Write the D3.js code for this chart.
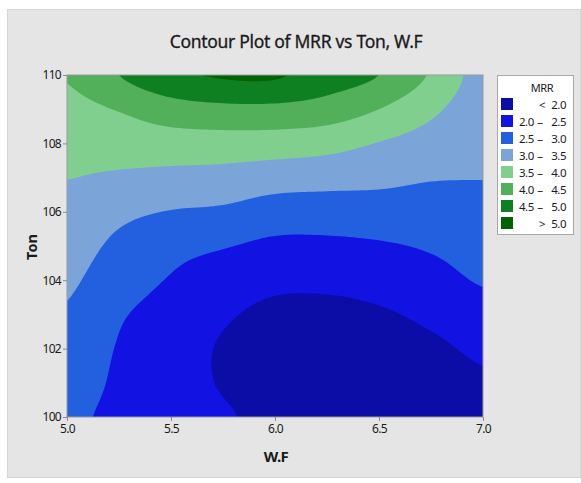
<!DOCTYPE html>
<html>
<head>
<meta charset="utf-8">
<script src="https://cdn.jsdelivr.net/npm/d3@7"></script>
<style>
  body { margin: 0; background: #fff; }
  text { font-family: "Noto Sans", "Open Sans", sans-serif; fill: #1a1a1a; }
</style>
</head>
<body>
<script>
// grid: columns follow wf, one row per ton value
var wf = [5.0, 5.25, 5.5, 5.75, 6.0, 6.25, 6.5, 6.75, 7.0];
var ton = [100, 101, 102, 103, 104, 105, 106, 107, 108, 109, 110];
var mrr = [
  [2.58, 2.40, 2.25, 2.06, 1.85, 1.75, 1.68, 1.70, 1.82],
  [2.70, 2.43, 2.22, 1.96, 1.76, 1.68, 1.62, 1.72, 1.92],
  [2.82, 2.47, 2.25, 1.95, 1.76, 1.70, 1.68, 1.88, 2.10],
  [2.95, 2.55, 2.34, 2.07, 1.88, 1.85, 1.93, 2.12, 2.32],
  [3.08, 2.71, 2.47, 2.27, 2.12, 2.12, 2.20, 2.33, 2.54],
  [3.22, 2.89, 2.65, 2.53, 2.40, 2.40, 2.45, 2.55, 2.70],
  [3.37, 3.12, 2.98, 2.92, 2.77, 2.75, 2.78, 2.78, 2.86],
  [3.51, 3.43, 3.37, 3.33, 3.23, 3.18, 3.12, 3.03, 3.01],
  [3.68, 3.73, 3.77, 3.78, 3.76, 3.68, 3.48, 3.30, 3.14],
  [3.85, 4.03, 4.28, 4.38, 4.38, 4.28, 4.00, 3.60, 3.22],
  [4.03, 4.50, 4.88, 5.05, 5.06, 4.75, 4.50, 3.95, 3.30]
];

var levels = [2.0, 2.5, 3.0, 3.5, 4.0, 4.5, 5.0];
var colors = ["#0c0ca6", "#1212e2", "#2260e0", "#7ba4d9", "#80cf8f", "#52b05a", "#0f8021", "#006300"];
var legendLabels = [["<", "2.0"], ["2.0", "2.5"], ["2.5", "3.0"], ["3.0", "3.5"],
                    ["3.5", "4.0"], ["4.0", "4.5"], ["4.5", "5.0"], [">", "5.0"]];
var xTicks = [5.0, 5.5, 6.0, 6.5, 7.0];
var yTicks = [100, 102, 104, 106, 108, 110];

var W = 581, H = 483;
var plot = {left: 67, right: 483, top: 75, bottom: 417};

var svg = d3.select("body").append("svg")
  .attr("width", W)
  .attr("height", H);

svg.append("rect").attr("width", W).attr("height", H).attr("fill", "#fff");
svg.append("rect")
  .attr("x", 7.5).attr("y", 9.5)
  .attr("width", W - 8).attr("height", 468)
  .attr("fill", "#e5e5e5")
  .attr("stroke", "#d4d4d4");

var x = d3.scaleLinear().domain([5, 7]).range([plot.left, plot.right]);
var y = d3.scaleLinear().domain([100, 110]).range([plot.bottom, plot.top]);

// smooth the read grid for drawing (catmull-rom), k steps per cell
var k = 12;
var nx = (wf.length - 1) * k + 1, ny = (ton.length - 1) * k + 1;
function cr(p0, p1, p2, p3, t) {
  return 0.5 * (2 * p1 + (-p0 + p2) * t + (2 * p0 - 5 * p1 + 4 * p2 - p3) * t * t +
    (-p0 + 3 * p1 - 3 * p2 + p3) * t * t * t);
}
function at(j, i) {
  j = Math.max(0, Math.min(ton.length - 1, j));
  i = Math.max(0, Math.min(wf.length - 1, i));
  return mrr[j][i];
}
var grid = new Array(nx * ny);
for (var jj = 0; jj < ny; jj++) {
  var j0 = Math.min(Math.floor(jj / k), ton.length - 2), tj = jj / k - j0;
  for (var ii = 0; ii < nx; ii++) {
    var i0 = Math.min(Math.floor(ii / k), wf.length - 2), ti = ii / k - i0;
    var rows = [];
    for (var m = -1; m <= 2; m++) {
      rows.push(cr(at(j0 + m, i0 - 1), at(j0 + m, i0), at(j0 + m, i0 + 1), at(j0 + m, i0 + 2), ti));
    }
    grid[jj * nx + ii] = cr(rows[0], rows[1], rows[2], rows[3], tj);
  }
}

var contours = d3.contours().size([nx, ny]).thresholds(levels)(grid);

var proj = d3.geoTransform({
  point: function(px, py) {
    var a = 5 + (px - 0.5) * 2 / (nx - 1);
    var b = 100 + (py - 0.5) * 10 / (ny - 1);
    this.stream.point(x(a), y(b));
  }
});
var path = d3.geoPath(proj);

svg.append("clipPath").attr("id", "clip")
  .append("rect")
  .attr("x", plot.left).attr("y", plot.top)
  .attr("width", plot.right - plot.left).attr("height", plot.bottom - plot.top);

var g = svg.append("g").attr("clip-path", "url(#clip)");
g.append("rect")
  .attr("x", plot.left).attr("y", plot.top)
  .attr("width", plot.right - plot.left).attr("height", plot.bottom - plot.top)
  .attr("fill", colors[0]);
g.selectAll("path").data(contours).enter().append("path")
  .attr("d", path)
  .attr("fill", function(d, i) { return colors[i + 1]; });

svg.append("rect")
  .attr("x", plot.left).attr("y", plot.top)
  .attr("width", plot.right - plot.left).attr("height", plot.bottom - plot.top)
  .attr("fill", "none").attr("stroke", "#9a9a9a").attr("stroke-width", 1);

// axes
var xAxis = svg.append("g")
  .attr("transform", "translate(0," + plot.bottom + ")")
  .call(d3.axisBottom(x).tickValues(xTicks).tickFormat(d3.format(".1f")).tickSize(4).tickPadding(3));
var yAxis = svg.append("g")
  .attr("transform", "translate(" + plot.left + ",0)")
  .call(d3.axisLeft(y).tickValues(yTicks).tickFormat(d3.format("d")).tickSize(4).tickPadding(2));
[xAxis, yAxis].forEach(function(ax) {
  ax.select(".domain").remove();
  ax.selectAll(".tick line").attr("stroke", "#8a8a8a");
  ax.selectAll(".tick text")
    .style("font-family", "'Noto Sans', sans-serif")
    .style("font-size", "12px")
    .style("letter-spacing", "-0.7px")
    .attr("fill", "#1a1a1a");
});

svg.append("text")
  .attr("x", 296).attr("y", 48)
  .attr("text-anchor", "middle")
  .style("font-size", "17.5px")
  .style("letter-spacing", "-0.3px")
  .style("stroke", "#1a1a1a").style("stroke-width", "0.3px")
  .text("Contour Plot of MRR vs Ton, W.F");

svg.append("text")
  .attr("x", 276).attr("y", 462)
  .attr("text-anchor", "middle")
  .style("font-size", "15px")
  .style("font-weight", "bold")
  .style("letter-spacing", "-0.6px")
  .text("W.F");

svg.append("text")
  .attr("transform", "translate(37,247) rotate(-90)")
  .attr("text-anchor", "middle")
  .style("font-size", "14.5px")
  .style("font-weight", "bold")
  .text("Ton");

// legend
var lg = svg.append("g");
lg.append("rect")
  .attr("x", 497.5).attr("y", 75.5)
  .attr("width", 76).attr("height", 159)
  .attr("fill", "#fff").attr("stroke", "#a8a8a8");
lg.append("text")
  .attr("x", 542).attr("y", 92)
  .attr("text-anchor", "middle")
  .style("font-size", "11px")
  .style("letter-spacing", "-0.4px")
  .text("MRR");
var rowsG = lg.selectAll("g.row").data(legendLabels).enter().append("g")
  .attr("class", "row")
  .attr("transform", function(d, i) { return "translate(0," + (104 + i * 17) + ")"; });
rowsG.append("rect")
  .attr("x", 501).attr("y", -6)
  .attr("width", 12).attr("height", 12)
  .attr("fill", function(d, i) { return colors[i]; });
rowsG.append("text")
  .attr("x", function(d) { return d[0] === "<" || d[0] === ">" ? 539 : 519; })
  .attr("y", 4.5)
  .style("font-size", "11.5px")
  .style("letter-spacing", "-0.5px")
  .text(function(d) { return d[0]; });
rowsG.filter(function(d) { return d[0] !== "<" && d[0] !== ">"; })
  .append("text")
  .attr("x", 540).attr("y", 4.5)
  .attr("text-anchor", "middle")
  .style("font-size", "11.5px")
  .text("\u2013");
rowsG.append("text")
  .attr("x", 566).attr("y", 4.5)
  .attr("text-anchor", "end")
  .style("font-size", "11.5px")
  .style("letter-spacing", "-0.5px")
  .text(function(d) { return d[1]; });
</script>
</body>
</html>
